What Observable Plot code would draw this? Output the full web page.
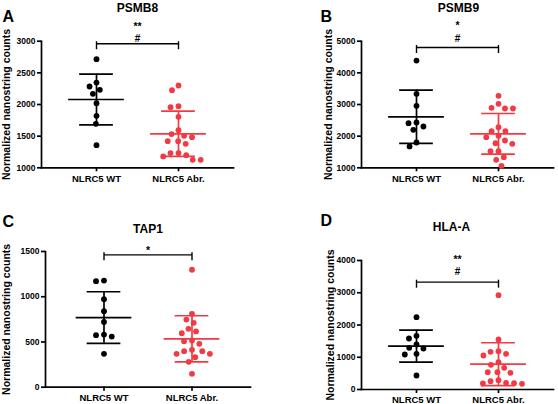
<!DOCTYPE html>
<html><head><meta charset="utf-8">
<script src="https://cdn.jsdelivr.net/npm/d3@7"></script>
<script src="https://cdn.jsdelivr.net/npm/@observablehq/plot@0.6"></script>
<style>
html,body{margin:0;padding:0;background:#fff;}
#fig{position:relative;width:558px;height:404px;overflow:hidden;background:#fff;}
#fig svg{position:absolute;overflow:visible;}
</style></head><body><div id="fig"></div>
<script>
// ---------- data ----------
const groups = ["NLRC5 WT", "NLRC5 Abr."];
const genes = ["PSMB8", "PSMB9", "TAP1", "HLA-A"];
const panelLetters = ["A", "B", "C", "D"];
const yLabel = "Normalized nanostring counts";

const psmb8WT  = [2716, 2347, 2284, 2232, 2168, 2021, 1821, 1695, 1358];
const psmb8Abr = [2300, 2226, 1974, 1958, 1805, 1595, 1532, 1505, 1484, 1421, 1421, 1379, 1232, 1232, 1200, 1179, 1126, 1126];
const psmb9WT  = [4389, 3337, 2958, 2432, 2411, 2305, 2200, 1800, 1674];
const psmb9Abr = [3275, 3022, 2896, 2874, 2874, 2283, 2157, 2157, 2011, 1967, 1863, 1777, 1758, 1525, 1525, 1335, 1253, 1063];
const tap1WT   = [1179, 1172, 973, 840, 722, 582, 575, 560, 369];
const tap1Abr  = [1298, 811, 748, 712, 645, 616, 597, 516, 508, 480, 413, 398, 398, 369, 369, 332, 281, 148];
const hlaaWT   = [2243, 1664, 1581, 1395, 1292, 1271, 1106, 1085, 434];
const hlaaAbr  = [2925, 1550, 1188, 1169, 1106, 1054, 847, 765, 672, 537, 537, 517, 289, 258, 207, 196, 186, 176];

const meanWT  = [2079, 2611, 770, 1344];
const sdWT    = [400, 842, 285, 496];
const meanAbr = [1537, 2074, 535, 785];
const sdAbr   = [358, 642, 255, 665];

const yDomains = [[1000, 3000], [1000, 5000], [0, 1500], [0, 4000]];
const yTicks = [
  [1000, 1500, 2000, 2500, 3000],
  [1000, 2000, 3000, 4000, 5000],
  [0, 500, 1000, 1500],
  [0, 1000, 2000, 3000, 4000]
];
const bracketY = [2960, 4800, 1463, 3328];
const starLabels = ["**", "*", "*", "**"];
const hashLabels = ["#", "#", "", "#"];

const wtSeries  = [psmb8WT, psmb9WT, tap1WT, hlaaWT];
const abrSeries = [psmb8Abr, psmb9Abr, tap1Abr, hlaaAbr];

// ---------- layout / style ----------
const FONT = "'Liberation Sans', Arial, Helvetica, sans-serif";
const RED = "#f23a44";
const PAD_IN = 0.1, PAD_OUT = 0.2135;
const layout = [
  {left: 0,   top: 0,   width: 279, height: 200, mt: 40.7, mb: 32.7, ml: 41, mr: 46, labelX: 6.3,  titleY: 7.2, titleDx: 0,  letterX: 2,  letterY: 16, starY: 25.8, hashY: 38.3},
  {left: 279, top: 0,   width: 279, height: 200, mt: 40.7, mb: 32.7, ml: 82, mr: 5,  labelX: 49.5, titleY: 7.2, titleDx: 1,  letterX: 41, letterY: 16, starY: 25.2, hashY: 38.3},
  {left: 0,   top: 200, width: 279, height: 204, mt: 51,   mb: 17.3, ml: 45, mr: 29, labelX: 6,    titleY: 29,  titleDx: 0,  letterX: 2,  letterY: 21, starY: 50.2, hashY: 0},
  {left: 279, top: 200, width: 279, height: 204, mt: 60,   mb: 15,   ml: 82, mr: 5,  labelX: 51,   titleY: 27,  titleDx: -6, letterX: 41, letterY: 20, starY: 59.2, hashY: 71.7}
];
const LW = 1.7;

const fig = document.getElementById("fig");

function label(value, opts) {
  return Plot.text([value], {text: d => d, textAnchor: "middle", lineAnchor: "middle", fontWeight: "bold", fill: "#000", ...opts});
}

function panel(i) {
  const L = layout[i];
  const plotW = L.width - L.ml - L.mr;
  const bw = plotW / (groups.length - PAD_IN + 2 * PAD_OUT) * (1 - PAD_IN);
  const pts = [
    ...wtSeries[i].map(v => ({group: groups[0], value: v})),
    ...abrSeries[i].map(v => ({group: groups[1], value: v}))
  ];
  const stats = [
    {group: groups[0], mean: meanWT[i], sd: sdWT[i]},
    {group: groups[1], mean: meanAbr[i], sd: sdAbr[i]}
  ];
  const common = {
    width: L.width, height: L.height,
    marginTop: L.mt, marginBottom: L.mb, marginLeft: L.ml, marginRight: L.mr,
    style: {fontFamily: FONT, fontWeight: "bold", background: "transparent", overflow: "visible", color: "#000"}
  };
  const color = {domain: groups, range: ["#000000", RED]};
  const meanInset = bw / 2 - 28, capInset = bw / 2 - 17;

  const textMarks = [
    label(genes[i], {frameAnchor: "top", dy: L.titleY - L.mt, dx: L.titleDx, fontSize: 12}),
    label(panelLetters[i], {frameAnchor: "top-left", textAnchor: "start", dx: L.letterX - L.ml, dy: L.letterY - L.mt, fontSize: 16}),
    label(yLabel, {frameAnchor: "left", rotate: -90, dx: L.labelX - L.ml, fontSize: 10.5}),
    label(starLabels[i], {frameAnchor: "top", dy: L.starY - L.mt, fontSize: 10.5})
  ];
  if (hashLabels[i]) textMarks.push(label(hashLabels[i], {frameAnchor: "top", dy: L.hashY - L.mt, fontSize: 10}));

  const base = Plot.plot({
    ...common,
    x: {type: "band", domain: groups, paddingInner: PAD_IN, paddingOuter: PAD_OUT},
    y: {domain: yDomains[i]},
    color,
    marks: [
      Plot.axisY({ticks: yTicks[i], tickFormat: "d", tickSize: 4, tickPadding: 2, fontSize: 8.5, fontWeight: "bold", strokeWidth: LW, label: null}),
      Plot.axisX({tickSize: 4, tickPadding: 3, fontSize: 9.5, fontWeight: "bold", strokeWidth: LW, label: null}),
      Plot.frame({anchor: "left", strokeWidth: LW}),
      Plot.frame({anchor: "bottom", strokeWidth: LW}),
      Plot.ruleX(stats, {x: "group", y1: d => d.mean - d.sd, y2: d => d.mean + d.sd, stroke: "group", strokeWidth: LW}),
      Plot.tickY(stats, {x: "group", y: "mean", stroke: "group", strokeWidth: LW, insetLeft: meanInset, insetRight: meanInset}),
      Plot.tickY(stats, {x: "group", y: d => d.mean + d.sd, stroke: "group", strokeWidth: LW, insetLeft: capInset, insetRight: capInset}),
      Plot.tickY(stats, {x: "group", y: d => d.mean - d.sd, stroke: "group", strokeWidth: LW, insetLeft: capInset, insetRight: capInset}),
      Plot.link([bracketY[i]], {x1: () => groups[0], x2: () => groups[1], y1: d => d, y2: d => d, strokeWidth: 1.4, stroke: "#000"}),
      Plot.ruleX(groups, {x: d => d, y1: bracketY[i], y2: bracketY[i], insetTop: -2, insetBottom: -6, strokeWidth: 1.4, stroke: "#000"}),
      ...textMarks
    ]
  });

  const over = Plot.plot({
    ...common,
    fx: {domain: groups, paddingInner: PAD_IN, paddingOuter: PAD_OUT, axis: null, label: null},
    y: {domain: yDomains[i], axis: null},
    color,
    marks: [
      Plot.dot(pts, Plot.dodgeX({anchor: "middle", padding: 2.2}, {fx: "group", y: "value", r: 2.9, fill: "group"}))
    ]
  });

  for (const svg of [base, over]) {
    svg.style.position = "absolute";
    svg.style.left = L.left + "px";
    svg.style.top = L.top + "px";
    svg.style.maxWidth = "none";
    fig.appendChild(svg);
  }
}

for (let i = 0; i < 4; i++) panel(i);
</script>
</body></html>
